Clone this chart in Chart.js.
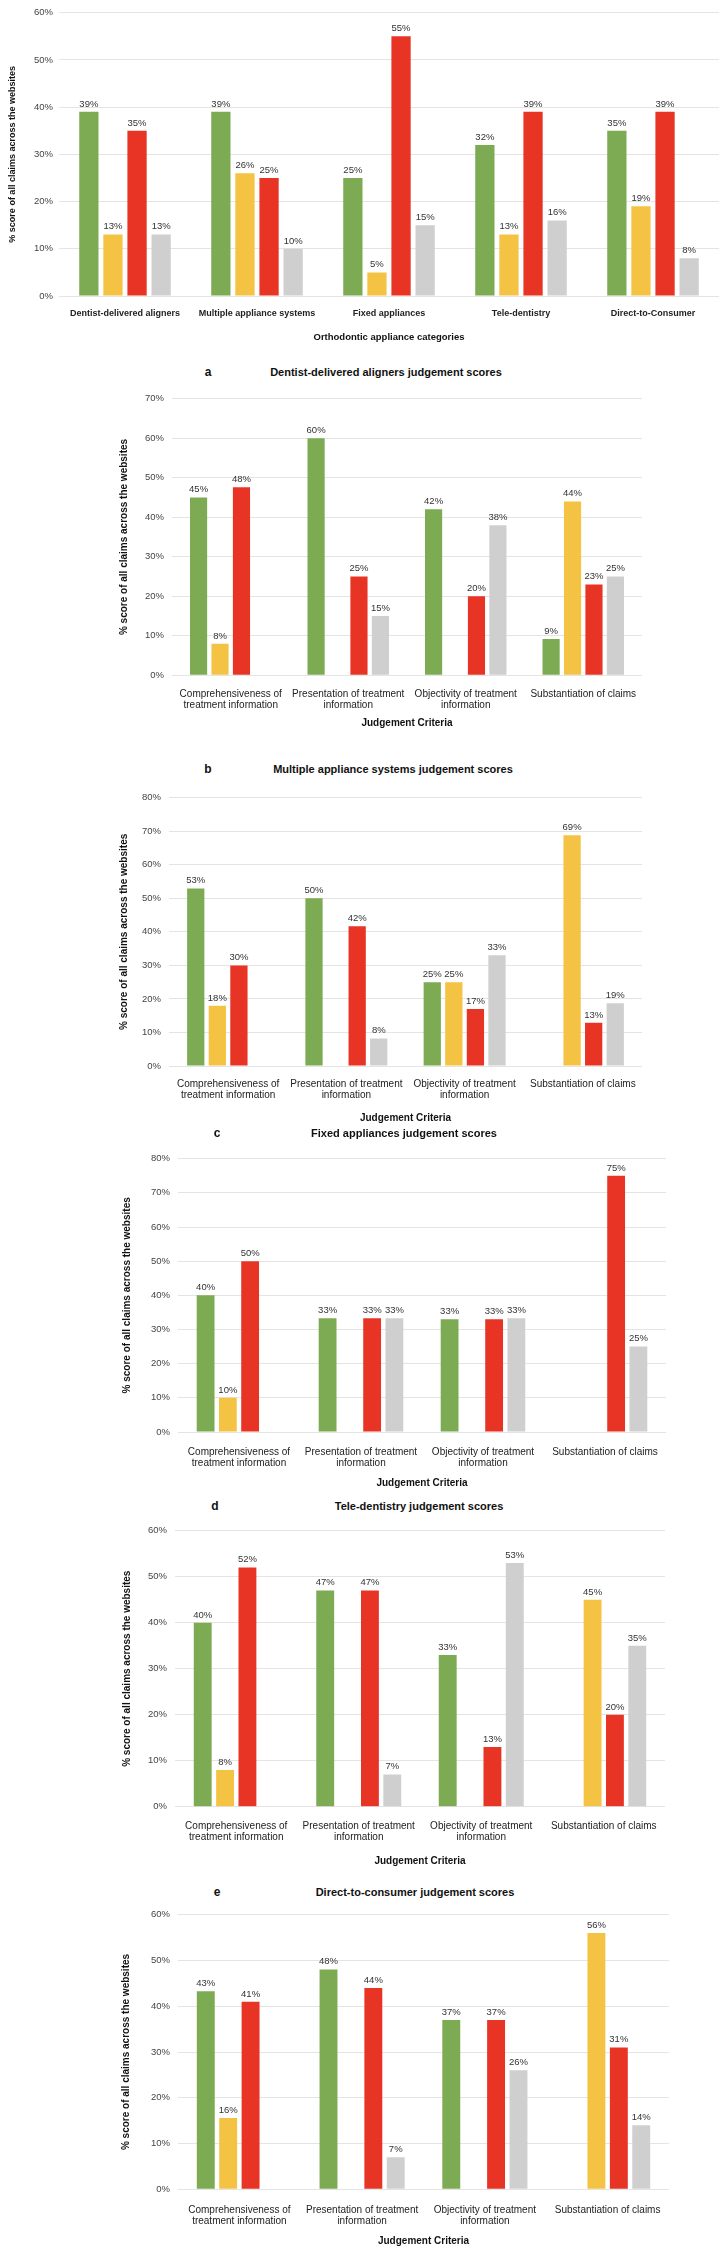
<!DOCTYPE html>
<html>
<head>
<meta charset="utf-8">
<script src="https://cdn.jsdelivr.net/npm/chart.js@4.4.1/dist/chart.umd.min.js"></script>
<style>
  body { margin: 0; background: #fff; }
  #page { position: relative; width: 723px; height: 2253px; overflow: hidden; font-family: "Liberation Sans", Arial, sans-serif; }
  #page canvas { position: absolute; left: 0; }
  .lbl { position: absolute; transform: translate(-50%, -50%); white-space: nowrap; font-weight: bold; color: #111; }
</style>
</head>
<body>
<div id="page">
  <canvas id="overview"></canvas>
  <canvas id="chartA"></canvas>
  <canvas id="chartB"></canvas>
  <canvas id="chartC"></canvas>
  <canvas id="chartD"></canvas>
  <canvas id="chartE"></canvas>

  <div class="lbl" style="left:208px;top:372px;font-size:12px">a</div>
  <div class="lbl" style="left:386px;top:372px;font-size:11px">Dentist-delivered aligners judgement scores</div>
  <div class="lbl" style="left:208px;top:769px;font-size:12px">b</div>
  <div class="lbl" style="left:393px;top:769px;font-size:11px">Multiple appliance systems judgement scores</div>
  <div class="lbl" style="left:217px;top:1133px;font-size:12px">c</div>
  <div class="lbl" style="left:404px;top:1133px;font-size:11px">Fixed appliances judgement scores</div>
  <div class="lbl" style="left:215px;top:1506px;font-size:12px">d</div>
  <div class="lbl" style="left:419px;top:1506px;font-size:11px">Tele-dentistry judgement scores</div>
  <div class="lbl" style="left:217px;top:1892px;font-size:12px">e</div>
  <div class="lbl" style="left:415px;top:1892px;font-size:11px">Direct-to-consumer judgement scores</div>
</div>

<script>
"use strict";

// ---- data (values in %) ----

// top overview chart
const applianceCategories = ['Dentist-delivered aligners', 'Multiple appliance systems',
  'Fixed appliances', 'Tele-dentistry', 'Direct-to-Consumer'];
const overviewGreen  = [39, 39, 25, 32, 35];
const overviewYellow = [13, 26, 5, 13, 19];
const overviewRed    = [35, 25, 55, 39, 39];
const overviewGrey   = [13, 10, 15, 16, 8];

// judgement criteria (panels a - e)
const criteria = [
  ['Comprehensiveness of', 'treatment information'],
  ['Presentation of treatment', 'information'],
  ['Objectivity of treatment', 'information'],
  'Substantiation of claims'
];

// a - dentist-delivered aligners
const aGreen  = [45, 60, 42, 9.2];
const aYellow = [8, null, null, 44];
const aRed    = [47.6, 25, 20, 23];
const aGrey   = [null, 15, 38, 25];

// b - multiple appliance systems
const bGreen  = [52.9, 50, 25, null];
const bYellow = [18, null, 25, 68.8];
const bRed    = [30, 41.7, 17, 12.9];
const bGrey   = [null, 8.2, 33, 18.7];

// c - fixed appliances
const cGreen  = [40, 33.3, 33, null];
const cYellow = [10, null, null, null];
const cRed    = [50, 33.3, 33, 75];
const cGrey   = [null, 33.3, 33.3, 25];

// d - tele-dentistry
const dGreen  = [40, 47, 33, null];
const dYellow = [8, null, null, 45];
const dRed    = [52, 47, 13, 20];
const dGrey   = [null, 7, 53, 35];

// e - direct-to-consumer
const eGreen  = [43.3, 48, 37, null];
const eYellow = [15.6, null, null, 56];
const eRed    = [41, 44, 37, 31];
const eGrey   = [null, 7, 26, 14];

const colours = ['#7dab53', '#f5c343', '#e83425', '#d0cfcf'];
const FONT = '"Liberation Sans", Arial, sans-serif';
const Y_TITLE = '% score of all claims across the websites';

Chart.defaults.font.family = FONT;
Chart.defaults.animation = false;

// draws the "39%" style labels above each bar
const barValueLabels = {
  id: 'barValueLabels',
  afterDatasetsDraw(chart, args, opts) {
    const ctx = chart.ctx;
    ctx.save();
    ctx.font = opts.size + 'px ' + FONT;
    ctx.fillStyle = '#333';
    ctx.textAlign = 'center';
    ctx.textBaseline = 'bottom';
    chart.data.datasets.forEach((ds, i) => {
      chart.getDatasetMeta(i).data.forEach((bar, j) => {
        const v = ds.data[j];
        if (v === null || v === undefined) return;
        ctx.fillText(Math.round(v) + '%', bar.x, bar.y - 3);
      });
    });
    ctx.restore();
  }
};

// s = layout of one panel in page pixels
function drawPanel(id, s, labels, series) {
  const canvas = document.getElementById(id);
  const top = Math.round(s.plotTop - 10);
  const bottom = Math.round(s.xTitleY + 9);
  const height = bottom - top;
  canvas.width = 723;
  canvas.height = height;
  canvas.style.top = top + 'px';

  const yLh = s.yTitleSize * 1.2;
  const xLh = s.xTitleSize * 1.2;
  const padLeft = s.yTitleX - yLh / 2;
  const xAxisH = s.xTitleY + xLh / 2 - s.plotBottom;

  new Chart(canvas, {
    type: 'bar',
    data: {
      labels: labels,
      datasets: series.map((d, i) => ({
        data: d,
        backgroundColor: colours[i],
        categoryPercentage: 0.73,
        barPercentage: 0.8
      }))
    },
    options: {
      responsive: false,
      layout: {
        padding: {
          left: padLeft,
          right: 723 - s.plotRight,
          top: s.plotTop - top,
          bottom: height - (s.plotBottom - top) - xAxisH
        }
      },
      plugins: {
        legend: { display: false },
        tooltip: { enabled: false },
        barValueLabels: { size: s.valueSize }
      },
      scales: {
        x: {
          grid: { display: false },
          border: { display: false },
          ticks: {
            color: '#222',
            font: { size: s.catSize, weight: s.catBold ? 'bold' : 'normal', lineHeight: 1.1 },
            padding: s.catPad,
            maxRotation: 0,
            autoSkip: false
          },
          title: {
            display: true,
            text: s.xTitle,
            color: '#111',
            font: { size: s.xTitleSize, weight: 'bold', lineHeight: 1.2 },
            padding: 0
          },
          afterFit: (scale) => { scale.height = xAxisH; }
        },
        y: {
          min: 0,
          max: s.yMax,
          grid: { color: '#e4e4e4', lineWidth: 1, drawTicks: false },
          border: { display: false },
          ticks: {
            stepSize: 10,
            color: '#444',
            font: { size: s.tickSize },
            padding: s.tickPad,
            callback: (v) => v + '%'
          },
          title: {
            display: true,
            text: Y_TITLE,
            color: '#111',
            font: { size: s.yTitleSize, weight: 'bold', lineHeight: 1.2 },
            padding: 0
          },
          afterFit: (scale) => { scale.width = s.plotLeft - padLeft; }
        }
      }
    },
    plugins: [barValueLabels]
  });
}

const panelStyle = { tickSize: 9.5, valueSize: 9.5, catSize: 10, catBold: false,
  xTitle: 'Judgement Criteria', xTitleSize: 10, yTitleSize: 10, tickPad: 8 };

drawPanel('overview', {
  plotTop: 11, plotBottom: 296, plotLeft: 59, plotRight: 719, yMax: 60,
  yTitleX: 13, xTitleY: 337, tickSize: 9.5, valueSize: 9.5, catSize: 9, catBold: true, catPad: 5,
  xTitle: 'Orthodontic appliance categories', xTitleSize: 9.5, yTitleSize: 9, tickPad: 6
}, applianceCategories, [overviewGreen, overviewYellow, overviewRed, overviewGrey]);

drawPanel('chartA', Object.assign({}, panelStyle, {
  plotTop: 395.3, plotBottom: 675.3, plotLeft: 172, plotRight: 642, yMax: 70,
  yTitleX: 124, xTitleY: 723, catPad: 5
}), criteria, [aGreen, aYellow, aRed, aGrey]);

drawPanel('chartB', Object.assign({}, panelStyle, {
  plotTop: 794, plotBottom: 1066, plotLeft: 169, plotRight: 642, yMax: 80,
  yTitleX: 124, xTitleY: 1118, catPad: 5
}), criteria, [bGreen, bYellow, bRed, bGrey]);

drawPanel('chartC', Object.assign({}, panelStyle, {
  plotTop: 1155, plotBottom: 1432, plotLeft: 178, plotRight: 666, yMax: 80,
  yTitleX: 127, xTitleY: 1483, catPad: 7
}), criteria, [cGreen, cYellow, cRed, cGrey]);

drawPanel('chartD', Object.assign({}, panelStyle, {
  plotTop: 1526.7, plotBottom: 1806.7, plotLeft: 175, plotRight: 665, yMax: 60,
  yTitleX: 127, xTitleY: 1861, catPad: 6
}), criteria, [dGreen, dYellow, dRed, dGrey]);

drawPanel('chartE', Object.assign({}, panelStyle, {
  plotTop: 1911, plotBottom: 2189.3, plotLeft: 178, plotRight: 669, yMax: 60,
  yTitleX: 126, xTitleY: 2241, catPad: 7
}), criteria, [eGreen, eYellow, eRed, eGrey]);
</script>
</body>
</html>
